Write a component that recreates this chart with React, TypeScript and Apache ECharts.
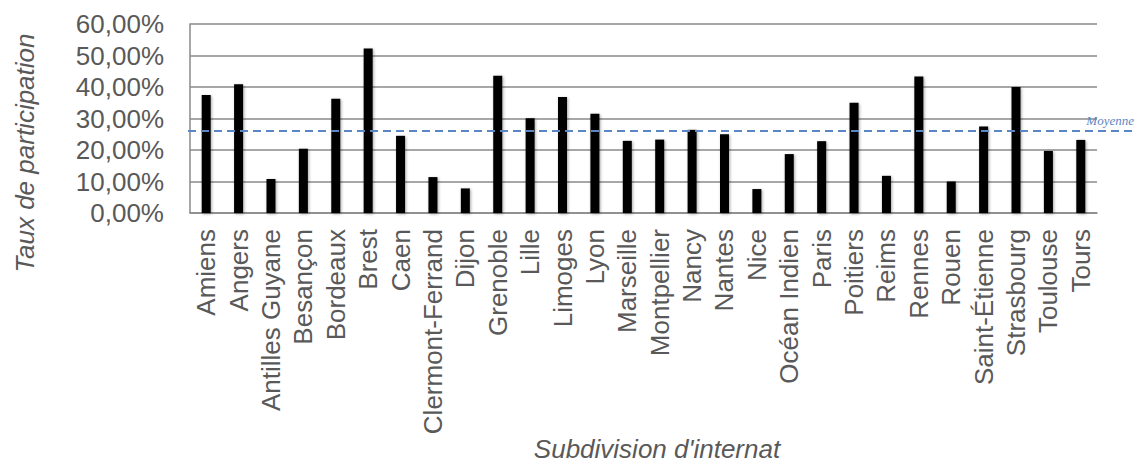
import React, { useEffect, useRef } from "react";
import * as echarts from "echarts";

const categories = [
  "Amiens", "Angers", "Antilles Guyane", "Besançon", "Bordeaux", "Brest", "Caen",
  "Clermont-Ferrand", "Dijon", "Grenoble", "Lille", "Limoges", "Lyon", "Marseille",
  "Montpellier", "Nancy", "Nantes", "Nice", "Océan Indien", "Paris", "Poitiers",
  "Reims", "Rennes", "Rouen", "Saint-Étienne", "Strasbourg", "Toulouse", "Tours",
];

const participation = [
  37.5, 40.9, 10.8, 20.4, 36.3, 52.2, 24.5,
  11.4, 7.8, 43.6, 30.1, 36.8, 31.5, 22.9,
  23.3, 26.4, 25.0, 7.6, 18.7, 22.8, 35.0,
  11.8, 43.3, 10.0, 27.5, 40.0, 19.7, 23.2,
];

const MEAN = 26.0;
const Y_MIN = 0;
const Y_MAX = 60;
const Y_STEP = 10;

const X_TITLE = "Subdivision d'internat";
const Y_TITLE = "Taux de participation";
const MEAN_LABEL = "Moyenne";

export default function App() {
  const ref = useRef<HTMLDivElement>(null);

  useEffect(() => {
    if (!ref.current) return;
    const chart = echarts.init(ref.current, null, { renderer: "svg" });
    const gray = "#595959";
    const gridColor = "#8a8a8a";
    chart.setOption({
      animation: false,
      textStyle: { fontFamily: "Liberation Sans" },
      grid: { left: 190, right: 42, top: 24, bottom: 250, containLabel: false },
      xAxis: {
        type: "category",
        data: categories,
        axisLine: { show: true, lineStyle: { color: gridColor, width: 1.5 } },
        axisTick: { show: false },
        axisLabel: {
          rotate: 90,
          interval: 0,
          fontSize: 26,
          color: gray,
          margin: 16,
          fontFamily: "Liberation Sans",
        },
      },
      yAxis: {
        type: "value",
        min: Y_MIN,
        max: Y_MAX,
        interval: Y_STEP,
        axisLine: { show: true, lineStyle: { color: gridColor, width: 1.5 } },
        axisTick: { show: false },
        splitLine: { show: true, lineStyle: { color: gridColor, width: 1.5 } },
        axisLabel: {
          fontSize: 26,
          color: gray,
          margin: 26,
          fontFamily: "Liberation Sans",
          formatter: (v: number) => v.toFixed(2).replace(".", ",") + "%",
        },
      },
      series: [
        {
          type: "bar",
          data: participation,
          barWidth: 9,
          itemStyle: {
            color: "#000000",
            shadowColor: "rgba(0,0,0,0.35)",
            shadowBlur: 3,
            shadowOffsetX: 1,
            shadowOffsetY: 1,
          },
        },
      ],
    });

    const yMean = chart.convertToPixel({ yAxisIndex: 0 }, MEAN) as number;
    chart.setOption({
      graphic: [
        {
          type: "line",
          shape: { x1: 188, y1: yMean, x2: 1136, y2: yMean },
          style: { stroke: "#5b86c5", lineWidth: 2, lineDash: [8, 5] },
          z: 10,
        },
        {
          type: "text",
          x: 1134,
          y: yMean - 4,
          style: {
            text: MEAN_LABEL,
            fontFamily: "Liberation Serif",
            fontStyle: "italic",
            fontSize: 13,
            fill: "#5b86c5",
            align: "right",
            verticalAlign: "bottom",
          },
          z: 10,
        },
        {
          type: "text",
          x: 657,
          y: 449,
          style: {
            text: X_TITLE,
            fontFamily: "Liberation Sans",
            fontStyle: "italic",
            fontSize: 26,
            fill: gray,
            align: "center",
            verticalAlign: "middle",
          },
        },
        {
          type: "text",
          x: 25,
          y: 153,
          rotation: Math.PI / 2,
          style: {
            text: Y_TITLE,
            fontFamily: "Liberation Sans",
            fontStyle: "italic",
            fontSize: 26,
            fill: gray,
            align: "center",
            verticalAlign: "middle",
          },
        },
      ],
    });

    return () => chart.dispose();
  }, []);

  return (
    <div
      ref={ref}
      style={{ position: "fixed", left: 0, top: 0, width: 1139, height: 463, background: "#ffffff" }}
    />
  );
}
